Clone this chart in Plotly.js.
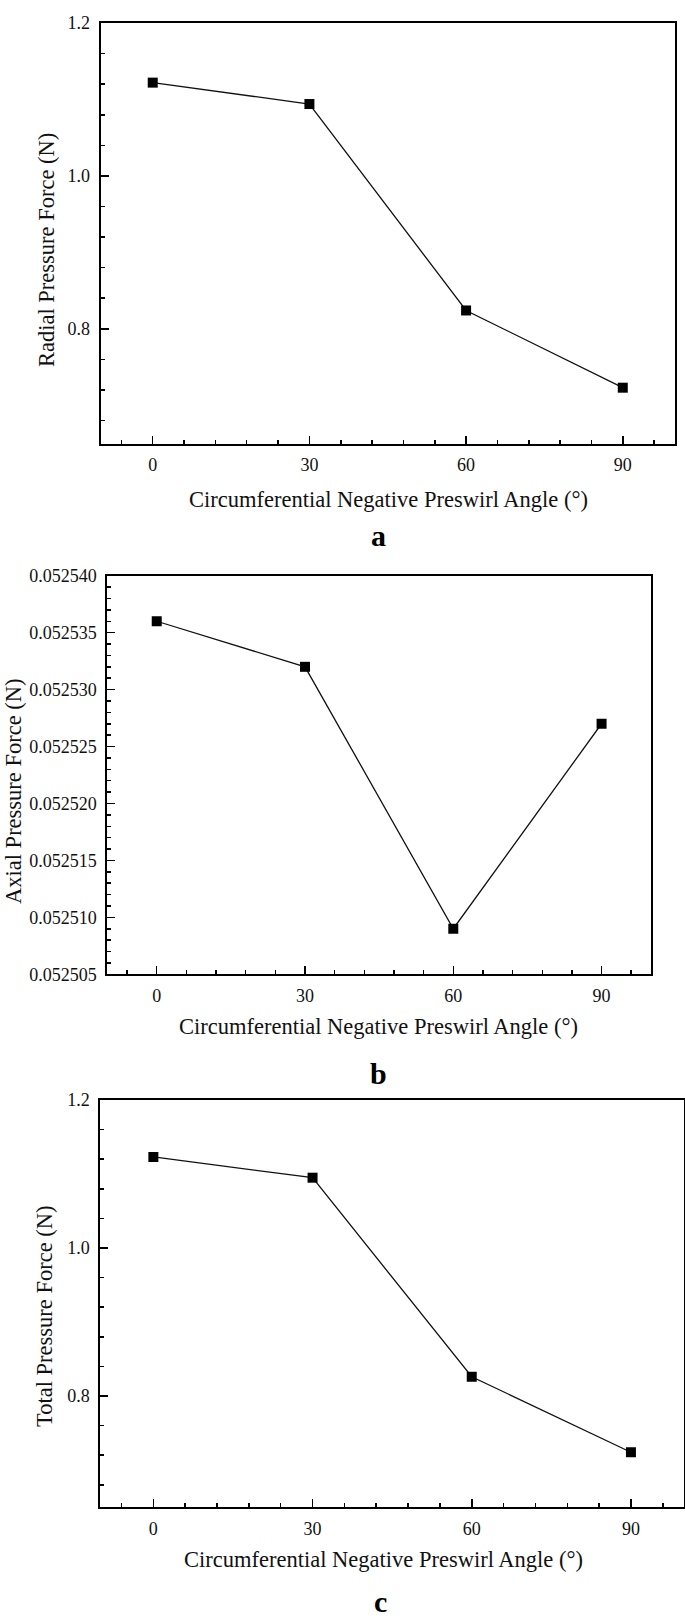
<!DOCTYPE html>
<html>
<head>
<meta charset="utf-8">
<script src="https://cdn.plot.ly/plotly-3.0.1.min.js"></script>
<style>
html,body{margin:0;padding:0;background:#fff;}
#chart{width:685px;height:1620px;}
</style>
</head>
<body>
<div id="chart"></div>
<script>
// Data
const angles = [0, 30, 60, 90];
const radialForce = [1.122, 1.094, 0.824, 0.723];
const axialForce = [0.052536, 0.052532, 0.052509, 0.052527];
const totalForce = [1.123, 1.095, 0.826, 0.724];
const xTitle = 'Circumferential Negative Preswirl Angle (°)';
const yTitles = ['Radial Pressure Force (N)', 'Axial Pressure Force (N)', 'Total Pressure Force (N)'];
const panelLabels = ['a', 'b', 'c'];

const W = 685, H = 1620;
const FONT = '"Liberation Serif", "Times New Roman", serif';

function px(x){ return x / W; }
function py(y){ return 1 - y / H; }

const trace = (y, xa, ya) => ({
  x: angles, y: y, xaxis: xa, yaxis: ya,
  type: 'scatter', mode: 'lines+markers',
  line: {color: '#111', width: 1.3},
  marker: {symbol: 'square', size: 10, color: '#000'},
  showlegend: false, cliponaxis: false
});

const xaxisBase = (dom, anchor) => ({
  domain: dom, anchor: anchor,
  range: [-10, 100], tick0: 0, dtick: 30,
  showline: true, mirror: true, linecolor: '#000', linewidth: 2,
  ticks: 'inside', ticklen: 8, tickwidth: 1.5, tickcolor: '#000',
  minor: {dtick: 6, tick0: 0, ticks: 'inside', ticklen: 4, tickwidth: 1.5, tickcolor: '#000'},
  showgrid: false, zeroline: false,
  tickfont: {family: FONT, size: 18, color: '#111'},
  ticklabelstandoff: 4
});

const yaxisBase = (dom, anchor, range, dtick, minorDtick, fmt) => ({
  domain: dom, anchor: anchor,
  range: range, tick0: 0, dtick: dtick, tickformat: fmt,
  showline: true, mirror: true, linecolor: '#000', linewidth: 2,
  ticks: 'inside', ticklen: 8, tickwidth: 1.5, tickcolor: '#000',
  minor: {dtick: minorDtick, tick0: 0, ticks: 'inside', ticklen: 4, tickwidth: 1.5, tickcolor: '#000'},
  showgrid: false, zeroline: false,
  tickfont: {family: FONT, size: 18, color: '#111'},
  ticklabelstandoff: 5
});

const data = [
  trace(radialForce, 'x', 'y'),
  trace(axialForce, 'x2', 'y2'),
  trace(totalForce, 'x3', 'y3')
];

const yb = yaxisBase([py(974.3), py(575.7)], 'x2', [0.052505, 0.052540], 0.000005, 0.000001, '.6f');
yb.tick0 = 0.052505;
yb.minor.tick0 = 0.052505;

const layout = {
  width: W, height: H,
  margin: {l: 0, r: 0, t: 0, b: 0},
  paper_bgcolor: '#fff', plot_bgcolor: '#fff',
  font: {family: FONT, color: '#111'},
  xaxis: xaxisBase([px(100.5), px(675)], 'y'),
  yaxis: yaxisBase([py(443.5), py(23)], 'x', [0.65, 1.2], 0.2, 0.04, '.1f'),
  xaxis2: xaxisBase([px(107.3), px(651)], 'y2'),
  yaxis2: yb,
  xaxis3: xaxisBase([px(100.3), px(684)], 'y3'),
  yaxis3: yaxisBase([py(1507), py(1100)], 'x3', [0.65, 1.2], 0.2, 0.04, '.1f'),
  annotations: [
    {text: yTitles[0], x: px(46), y: py(250), textangle: -90},
    {text: yTitles[1], x: px(13), y: py(791), textangle: -90},
    {text: yTitles[2], x: px(44), y: py(1317), textangle: -90},
    {text: xTitle, x: px(388), y: py(499)},
    {text: xTitle, x: px(379), y: py(1026)},
    {text: xTitle, x: px(383), y: py(1559)},
    {text: '<b>' + panelLabels[0] + '</b>', x: px(379), y: py(535), font: {family: FONT, size: 30, color: '#000'}},
    {text: '<b>' + panelLabels[1] + '</b>', x: px(379), y: py(1073), font: {family: FONT, size: 30, color: '#000'}},
    {text: '<b>' + panelLabels[2] + '</b>', x: px(380), y: py(1601), font: {family: FONT, size: 30, color: '#000'}}
  ].map(a => Object.assign({
    xref: 'paper', yref: 'paper', xanchor: 'center', yanchor: 'middle',
    showarrow: false, font: {family: FONT, size: 22.5, color: '#111'}
  }, a, a.font ? {font: a.font} : {}))
};

Plotly.newPlot('chart', data, layout, {staticPlot: true, displayModeBar: false});
</script>
</body>
</html>
